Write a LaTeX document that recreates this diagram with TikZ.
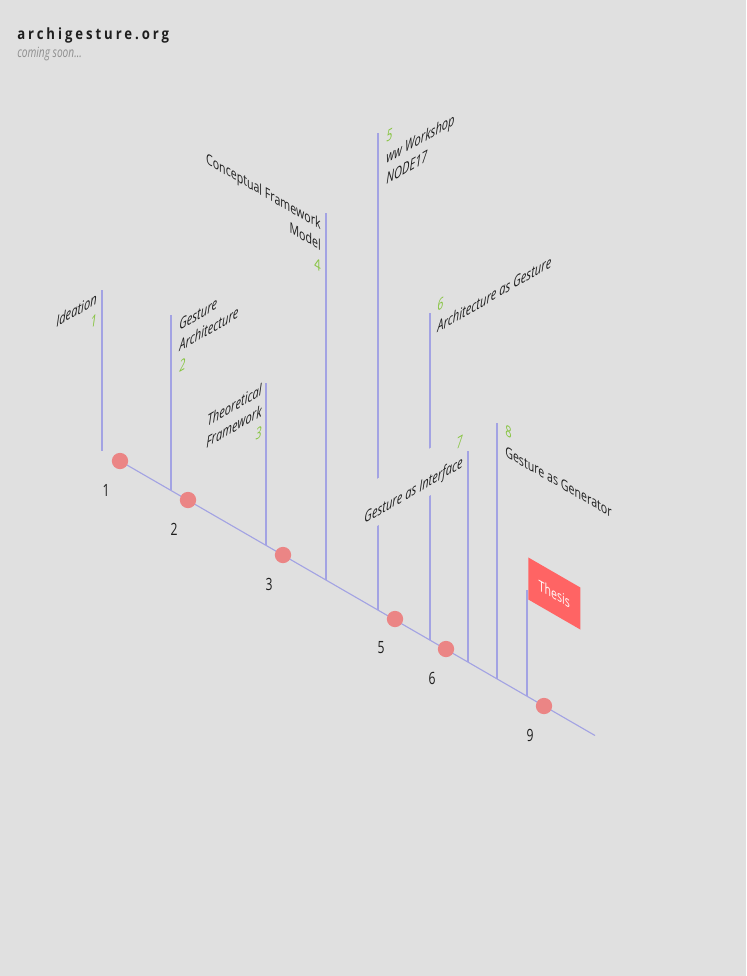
\documentclass[tikz,border=0pt]{standalone}
\usepackage{fontspec}
\setmainfont{Open Sans}[FakeStretch=0.72]
\newfontfamily\sitefont{Open Sans}[FakeStretch=0.85, LetterSpace=19]
\usepackage{tikz}
\usetikzlibrary{
  positioning,
  calc,
}
\definecolor{pagegray}{HTML}{E0E0E0}
\definecolor{stemblue}{HTML}{A3A3E3}
\definecolor{dotred}{HTML}{EB8585}
\definecolor{flagred}{HTML}{FF6464}
\definecolor{tagreen}{HTML}{86C440}
\definecolor{inkgray}{HTML}{1E1E1E}
\definecolor{soongray}{HTML}{8E8E8E}

\newcommand{\tagnum}[1]{{\color{tagreen}\fontsize{11}{15}\selectfont #1}}

\begin{document}
\begin{tikzpicture}[
    x=0.025cm, y=-0.025cm,
    axis/.style={draw=stemblue, line width=0.8pt},
    stem/.style={draw=stemblue, line width=0.8pt},
    milestone/.style={circle, fill=dotred, minimum size=11.6pt, inner sep=0pt},
    daynum/.style={font=\fontsize{12}{14}\selectfont, text=inkgray, inner sep=0pt},
    risetag/.style={yslant=0.5774, font=\fontsize{11}{15}\selectfont\itshape,
                    text=inkgray, fill=pagegray, inner xsep=0pt, inner ysep=4pt},
    falltag/.style={yslant=-0.5774, font=\fontsize{10.5}{15}\selectfont,
                    text=inkgray, fill=pagegray, inner xsep=0pt, inner ysep=4pt},
    flag/.style={yslant=-0.5774, fill=flagred, text=white,
                 font=\fontsize{10.5}{12}\selectfont, anchor=north west,
                 minimum width=37pt, minimum height=29.9pt, inner sep=0pt},
  ]
  \fill[pagegray] (0,0) rectangle (746,976);

  % header
  \node[anchor=base west, inner sep=0pt, text=inkgray,
        font=\sitefont\bfseries\fontsize{11}{13}\selectfont] (site) at (17,39) {archigesture.org};
  \node[anchor=base west, inner sep=0pt, text=soongray,
        font=\itshape\fontsize{10}{12}\selectfont] (soon) at (17,57.5) {coming soon...};

  % time axis
  \coordinate (p1) at (120,461);
  \coordinate (p2) at (188,500);
  \coordinate (p3) at (283,555);
  \coordinate (p5) at (395,619);
  \coordinate (p6) at (446,649);
  \coordinate (p9) at (544,706);
  \coordinate (end) at (595,735.5);
  \draw[axis] (p1) -- (end);

  % stems: number/x/top
  \foreach \i/\x/\top in {1/102/290, 2/171/315, 3/266/383, 4/326/213, 5/378/133,
                          6/430/313, 7/468/451, 8/497/423, 9/527/590} {
    \coordinate (t\i) at (\x,\top);
    \coordinate (b\i) at (\x,{461+(\x-120)*0.5774});
    \draw[stem] (t\i) -- (b\i);
  }

  % milestones
  \node[milestone] (d1) at (p1) {};
  \node[milestone] (d2) at (p2) {};
  \node[milestone] (d3) at (p3) {};
  \node[milestone] (d5) at (p5) {};
  \node[milestone] (d6) at (p6) {};
  \node[milestone] (d9) at (p9) {};

  \node[daynum] (n1) at ($(d1)+(-14,29)$) {1};
  \node[daynum] (n2) at ($(d2)+(-14,29)$) {2};
  \node[daynum] (n3) at ($(d3)+(-14,29)$) {3};
  \node[daynum] (n5) at ($(d5)+(-14,29)$) {5};
  \node[daynum] (n6) at ($(d6)+(-14,29)$) {6};
  \node[daynum] (n9) at ($(d9)+(-14,29)$) {9};

  % tags (base = last line)
  \node[risetag, align=right, anchor=base east] (tag1) at (97,325) {Ideation\\\tagnum{1}};
  \node[risetag, align=left, anchor=base west] (tag2) at (179,373) {Gesture\\Architecture\\\tagnum{2}};
  \node[risetag, align=right, anchor=base east] (tag3) at (262,437) {Theoretical\\Framework\\\tagnum{3}};
  \node[falltag, align=right, anchor=base east] (tag4) at (321,272) {Conceptual Framework\\Model\\\tagnum{4}};
  \node[risetag, align=left, anchor=base west] (tag5) at (386,185) {\tagnum{5}\\ww Workshop\\NODE17};
  \node[risetag, align=left, anchor=base west] (tag6) at (437,333) {\tagnum{6}\\Architecture as Gesture};
  \node[risetag, align=right, anchor=base east] (tag7) at (463,467) {\tagnum{7}\\Gesture as Interface};
  \node[falltag, align=left, anchor=base west] (tag8) at (505,456) {\tagnum{8}\\Gesture as Generator};

  % thesis flag
  \node[flag] (thesis) at (528,557) {Thesis};
\end{tikzpicture}
\end{document}
